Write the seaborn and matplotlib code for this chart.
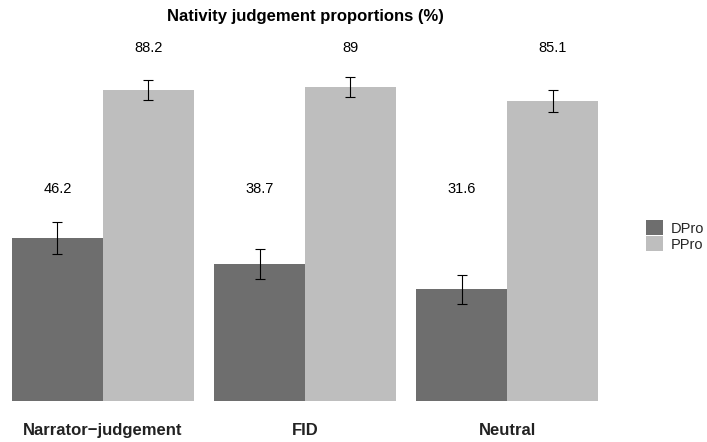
import pandas as pd
import matplotlib
matplotlib.use("Agg")
import matplotlib.pyplot as plt
import seaborn as sns

# data
conditions = ["Narrator\u2212judgement", "FID", "Neutral"]
groups = ["DPro", "PPro"]
dpro_means = [46.2, 38.7, 31.6]
ppro_means = [88.2, 89.0, 85.1]
dpro_err = [4.5, 4.3, 4.2]
ppro_err = [2.9, 2.8, 3.2]
label_height = {"DPro": 60, "PPro": 100}
bar_colors = {"DPro": "#6e6e6e", "PPro": "#bebebe"}


def fmt(v):
    return f"{v:g}"


df = pd.DataFrame({
    "condition": conditions * 2,
    "group": ["DPro"] * 3 + ["PPro"] * 3,
    "mean": dpro_means + ppro_means,
    "err": dpro_err + ppro_err,
})

sns.set_style("white")
plt.rcParams["font.family"] = ["Liberation Sans", "DejaVu Sans"]

W, H = 707, 442
fig = plt.figure(figsize=(W / 100, H / 100), dpi=100)
ax = fig.add_axes([12 / W, (H - 400.7) / H, 586 / W, 370.7 / H])

sns.barplot(data=df, x="condition", y="mean", hue="group", order=conditions,
            hue_order=groups, palette=bar_colors, width=0.9, errorbar=None,
            saturation=1, linewidth=0, ax=ax, legend=True)

# error bars and value labels, placed from the drawn bars
for container, g in zip(ax.containers, groups):
    sub = df[df["group"] == g].set_index("condition").loc[conditions]
    xs = [p.get_x() + p.get_width() / 2 for p in container.patches]
    ax.errorbar(xs, sub["mean"], yerr=sub["err"], fmt="none", ecolor="black",
                elinewidth=0.8, capsize=3.6, capthick=0.8)
    for x, v in zip(xs, sub["mean"]):
        ax.text(x, label_height[g], fmt(v), ha="center", va="center",
                fontsize=10.5, color="black")

ax.set_xlim(-0.45, 2.45)
ax.set_ylim(0, 105.2)
ax.set_xlabel("")
ax.set_ylabel("")
ax.set_yticks([])
ax.tick_params(axis="x", length=0, pad=16)
for lab in ax.get_xticklabels():
    lab.set_fontweight("bold")
    lab.set_fontsize(12)
    lab.set_color("#222222")
sns.despine(ax=ax, left=True, bottom=True)

ax.set_title("Nativity judgement proportions (%)", fontsize=12,
             fontweight="bold", pad=6.5, color="black")

leg = ax.legend(title=None, frameon=False, loc="center left", fontsize=10.5,
                handlelength=1.2, handleheight=1.2, handletextpad=0.5,
                labelspacing=0.05, borderaxespad=0)
leg.set_bbox_to_anchor((640 / W, (H - 236) / H), transform=fig.transFigure)

fig.savefig("out.png", dpi=100)
